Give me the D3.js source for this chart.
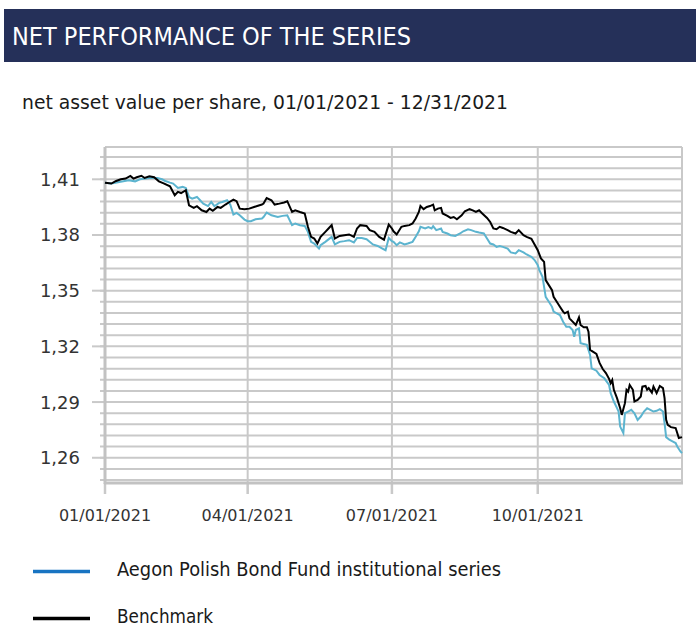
<!DOCTYPE html>
<html>
<head>
<meta charset="utf-8">
<script src="https://cdn.jsdelivr.net/npm/d3@7"></script>
<style>
  body { margin: 0; background: #fff; }
  svg { display: block; }
</style>
</head>
<body>
<div id="chart"></div>
<script>
// net asset value per share
const fundSeries = [
  ["2021-01-01",1.4082],["2021-01-05",1.4077],["2021-01-10",1.4085],["2021-01-16",1.4095],["2021-01-20",1.4089],
  ["2021-01-23",1.4100],["2021-01-29",1.4107],["2021-02-03",1.4107],["2021-02-06",1.4100],["2021-02-08",1.4091],
  ["2021-02-11",1.4082],["2021-02-13",1.4077],["2021-02-16",1.4053],["2021-02-19",1.4059],["2021-02-21",1.4053],
  ["2021-02-23",1.4005],["2021-02-25",1.3996],["2021-02-28",1.4005],["2021-03-02",1.3987],["2021-03-04",1.3969],
  ["2021-03-07",1.3956],["2021-03-09",1.3978],["2021-03-11",1.3955],["2021-03-14",1.3973],["2021-03-16",1.3978],
  ["2021-03-19",1.3987],["2021-03-21",1.3964],["2021-03-23",1.3910],["2021-03-25",1.3919],["2021-03-27",1.3906],
  ["2021-03-30",1.3883],["2021-04-01",1.3874],["2021-04-03",1.3874],["2021-04-06",1.3885],["2021-04-10",1.3889],
  ["2021-04-11",1.3897],["2021-04-13",1.3921],["2021-04-16",1.3906],["2021-04-20",1.3897],["2021-04-23",1.3903],
  ["2021-04-26",1.3906],["2021-04-29",1.3853],["2021-05-01",1.3862],["2021-05-04",1.3853],["2021-05-07",1.3849],
  ["2021-05-09",1.3817],["2021-05-11",1.3763],["2021-05-13",1.3754],["2021-05-16",1.3727],["2021-05-17",1.3745],
  ["2021-05-20",1.3763],["2021-05-24",1.3790],["2021-05-26",1.3749],["2021-05-29",1.3763],["2021-06-01",1.3767],
  ["2021-06-04",1.3772],["2021-06-07",1.3760],["2021-06-09",1.3784],["2021-06-12",1.3784],["2021-06-15",1.3777],
  ["2021-06-19",1.3749],["2021-06-22",1.3741],["2021-06-25",1.3727],["2021-06-27",1.3718],["2021-06-29",1.3784],
  ["2021-07-01",1.3767],["2021-07-02",1.3763],["2021-07-04",1.3745],["2021-07-06",1.3760],["2021-07-09",1.3749],
  ["2021-07-11",1.3754],["2021-07-14",1.3763],["2021-07-16",1.3790],["2021-07-18",1.3820],["2021-07-19",1.3844],
  ["2021-07-22",1.3835],["2021-07-24",1.3842],["2021-07-26",1.3835],["2021-07-27",1.3847],["2021-07-29",1.3826],
  ["2021-08-01",1.3835],["2021-08-02",1.3817],["2021-08-05",1.3808],["2021-08-07",1.3799],["2021-08-10",1.3795],
  ["2021-08-13",1.3808],["2021-08-15",1.3820],["2021-08-18",1.3831],["2021-08-20",1.3826],["2021-08-23",1.3817],
  ["2021-08-25",1.3813],["2021-08-28",1.3808],["2021-08-30",1.3781],["2021-09-01",1.3754],["2021-09-03",1.3749],
  ["2021-09-05",1.3736],["2021-09-07",1.3741],["2021-09-09",1.3736],["2021-09-12",1.3727],["2021-09-14",1.3706],
  ["2021-09-17",1.3701],["2021-09-19",1.3718],["2021-09-22",1.3706],["2021-09-24",1.3695],["2021-09-27",1.3682],
  ["2021-09-29",1.3665],["2021-10-01",1.3638],["2021-10-02",1.3611],["2021-10-04",1.3575],["2021-10-06",1.3467],
  ["2021-10-08",1.3440],["2021-10-10",1.3413],["2021-10-11",1.3387],["2021-10-13",1.3378],["2021-10-15",1.3369],
  ["2021-10-17",1.3333],["2021-10-19",1.3306],["2021-10-21",1.3306],["2021-10-23",1.3288],["2021-10-24",1.3252],
  ["2021-10-25",1.3288],["2021-10-27",1.3297],["2021-10-28",1.3217],["2021-10-30",1.3213],["2021-11-01",1.3208],
  ["2021-11-03",1.3154],["2021-11-04",1.3082],["2021-11-07",1.3069],["2021-11-09",1.3046],["2021-11-12",1.3028],
  ["2021-11-15",1.2992],["2021-11-16",1.2948],["2021-11-18",1.2903],["2021-11-20",1.2867],["2021-11-21",1.2849],
  ["2021-11-22",1.2768],["2021-11-24",1.2733],["2021-11-25",1.2840],["2021-11-27",1.2849],["2021-11-29",1.2858],
  ["2021-12-01",1.2840],["2021-12-03",1.2804],["2021-12-05",1.2822],["2021-12-07",1.2849],["2021-12-09",1.2867],
  ["2021-12-11",1.2858],["2021-12-13",1.2849],["2021-12-15",1.2853],["2021-12-17",1.2862],["2021-12-19",1.2849],
  ["2021-12-20",1.2787],["2021-12-21",1.2711],["2021-12-23",1.2697],["2021-12-25",1.2688],["2021-12-27",1.2679],
  ["2021-12-28",1.2661],["2021-12-30",1.2634],["2021-12-31",1.2625]
];

const benchSeries = [
  ["2021-01-01",1.4082],["2021-01-05",1.4077],["2021-01-08",1.4091],["2021-01-11",1.4100],["2021-01-14",1.4104],
  ["2021-01-17",1.4118],["2021-01-19",1.4104],["2021-01-21",1.4111],["2021-01-24",1.4119],["2021-01-26",1.4107],
  ["2021-01-29",1.4116],["2021-02-01",1.4111],["2021-02-04",1.4089],["2021-02-07",1.4078],["2021-02-11",1.4062],
  ["2021-02-12",1.4046],["2021-02-14",1.4014],["2021-02-16",1.4032],["2021-02-18",1.4026],["2021-02-21",1.4041],
  ["2021-02-23",1.3960],["2021-02-26",1.3946],["2021-02-28",1.3955],["2021-03-03",1.3933],["2021-03-06",1.3924],
  ["2021-03-08",1.3942],["2021-03-10",1.3930],["2021-03-13",1.3951],["2021-03-15",1.3946],["2021-03-18",1.3964],
  ["2021-03-20",1.3975],["2021-03-23",1.3991],["2021-03-25",1.3982],["2021-03-27",1.3942],["2021-03-30",1.3939],
  ["2021-04-02",1.3942],["2021-04-05",1.3951],["2021-04-07",1.3956],["2021-04-10",1.3964],["2021-04-11",1.3969],
  ["2021-04-13",1.3999],["2021-04-16",1.3987],["2021-04-18",1.3964],["2021-04-21",1.3969],["2021-04-24",1.3975],
  ["2021-04-26",1.3982],["2021-04-29",1.3924],["2021-05-01",1.3933],["2021-05-04",1.3924],["2021-05-07",1.3916],
  ["2021-05-09",1.3844],["2021-05-11",1.3790],["2021-05-13",1.3781],["2021-05-15",1.3754],["2021-05-17",1.3790],
  ["2021-05-20",1.3817],["2021-05-22",1.3835],["2021-05-24",1.3853],["2021-05-26",1.3781],["2021-05-29",1.3795],
  ["2021-06-01",1.3799],["2021-06-04",1.3803],["2021-06-07",1.3790],["2021-06-09",1.3835],["2021-06-11",1.3853],
  ["2021-06-15",1.3849],["2021-06-17",1.3826],["2021-06-20",1.3817],["2021-06-23",1.3790],["2021-06-26",1.3775],
  ["2021-06-29",1.3856],["2021-07-01",1.3835],["2021-07-02",1.3820],["2021-07-04",1.3803],["2021-07-07",1.3844],
  ["2021-07-09",1.3849],["2021-07-12",1.3853],["2021-07-14",1.3862],["2021-07-16",1.3889],["2021-07-18",1.3924],
  ["2021-07-19",1.3956],["2021-07-21",1.3939],["2021-07-23",1.3951],["2021-07-25",1.3956],["2021-07-27",1.3964],
  ["2021-07-28",1.3933],["2021-07-30",1.3942],["2021-08-01",1.3946],["2021-08-02",1.3916],["2021-08-05",1.3903],
  ["2021-08-07",1.3892],["2021-08-09",1.3897],["2021-08-11",1.3885],["2021-08-14",1.3906],["2021-08-16",1.3928],
  ["2021-08-19",1.3939],["2021-08-21",1.3933],["2021-08-23",1.3924],["2021-08-25",1.3933],["2021-08-27",1.3916],
  ["2021-08-30",1.3892],["2021-09-01",1.3870],["2021-09-03",1.3835],["2021-09-05",1.3831],["2021-09-07",1.3844],
  ["2021-09-09",1.3838],["2021-09-12",1.3826],["2021-09-14",1.3817],["2021-09-17",1.3808],["2021-09-19",1.3826],
  ["2021-09-22",1.3799],["2021-09-24",1.3790],["2021-09-27",1.3780],["2021-09-29",1.3749],["2021-10-01",1.3718],
  ["2021-10-03",1.3674],["2021-10-05",1.3655],["2021-10-06",1.3557],["2021-10-08",1.3530],["2021-10-10",1.3503],
  ["2021-10-11",1.3467],["2021-10-13",1.3440],["2021-10-15",1.3413],["2021-10-17",1.3387],["2021-10-18",1.3378],
  ["2021-10-20",1.3387],["2021-10-21",1.3351],["2021-10-23",1.3333],["2021-10-25",1.3315],["2021-10-27",1.3356],
  ["2021-10-28",1.3315],["2021-10-30",1.3303],["2021-11-01",1.3303],["2021-11-02",1.3279],["2021-11-03",1.3181],
  ["2021-11-05",1.3170],["2021-11-07",1.3159],["2021-11-09",1.3111],["2021-11-11",1.3078],["2021-11-13",1.3056],
  ["2021-11-15",1.3025],["2021-11-16",1.3002],["2021-11-17",1.3019],["2021-11-18",1.2966],["2021-11-20",1.2921],
  ["2021-11-22",1.2867],["2021-11-23",1.2831],["2021-11-25",1.2894],["2021-11-26",1.2966],["2021-11-27",1.2956],
  ["2021-11-28",1.2992],["2021-11-30",1.2966],["2021-12-01",1.2903],["2021-12-03",1.2912],["2021-12-05",1.2930],
  ["2021-12-06",1.2983],["2021-12-08",1.2987],["2021-12-09",1.2966],["2021-12-10",1.2975],["2021-12-12",1.2951],
  ["2021-12-13",1.2983],["2021-12-14",1.2966],["2021-12-15",1.2948],["2021-12-17",1.2987],["2021-12-19",1.2975],
  ["2021-12-20",1.2921],["2021-12-21",1.2804],["2021-12-22",1.2777],["2021-12-24",1.2765],["2021-12-27",1.2760],
  ["2021-12-28",1.2733],["2021-12-29",1.2706],["2021-12-31",1.2711]
];

const xTickDates = ["2021-01-01", "2021-04-01", "2021-07-01", "2021-10-01"];
const xTickLabels = ["01/01/2021", "04/01/2021", "07/01/2021", "10/01/2021"];
const yTickValues = [1.26, 1.29, 1.32, 1.35, 1.38, 1.41];
const yTickLabels = ["1,26", "1,29", "1,32", "1,35", "1,38", "1,41"];
const legendLabels = ["Aegon Polish Bond Fund institutional series", "Benchmark"];

const width = 696;
const height = 626;
const parseDate = d3.timeParse("%Y-%m-%d");

const svg = d3.select("#chart")
  .append("svg")
  .attr("width", width)
  .attr("height", height);

svg.append("rect").attr("width", width).attr("height", height).attr("fill", "#fff");

////////////////// HEADER //////////////////
svg.append("rect")
  .attr("x", 4).attr("y", 9)
  .attr("width", width - 4).attr("height", 53)
  .attr("fill", "#253059");

svg.append("text")
  .attr("x", 12).attr("y", 45)
  .attr("fill", "#fff")
  .style("font-family", "'DejaVu Sans Condensed', 'DejaVu Sans'")
  .style("font-stretch", "condensed")
  .style("font-size", "24px")
  .attr("textLength", 399)
  .attr("lengthAdjust", "spacingAndGlyphs")
  .text("NET PERFORMANCE OF THE SERIES");

svg.append("text")
  .attr("x", 22).attr("y", 109)
  .attr("fill", "#1a1a1a")
  .style("font-family", "'DejaVu Sans Condensed', 'DejaVu Sans'")
  .style("font-stretch", "condensed")
  .style("font-size", "19px")
  .attr("textLength", 486)
  .attr("lengthAdjust", "spacingAndGlyphs")
  .text("net asset value per share, 01/01/2021 - 12/31/2021");

////////////////// SCALES //////////////////
const x = d3.scaleTime()
  .domain([parseDate("2021-01-01"), parseDate("2021-12-31")])
  .range([105, 682]);

const y = d3.scaleLinear()
  .domain([1.2464, 1.4274])
  .range([483, 147]);

const gridColor = "#c9c9c9";

////////////////// GRID //////////////////
const minorValues = d3.range(0, 30).map(i => 1.248 + i * 0.006);

const grid = svg.append("g");
grid.selectAll("line.hgrid")
  .data(minorValues)
  .join("line")
  .attr("class", "hgrid")
  .attr("x1", 100).attr("x2", x.range()[1])
  .attr("y1", d => y(d)).attr("y2", d => y(d))
  .attr("stroke", gridColor).attr("stroke-width", 2);

// top border
grid.append("line")
  .attr("x1", x.range()[0]).attr("x2", x.range()[1])
  .attr("y1", y.range()[1]).attr("y2", y.range()[1])
  .attr("stroke", gridColor).attr("stroke-width", 2);

// major ticks on the left
grid.selectAll("line.ymajor")
  .data(yTickValues)
  .join("line")
  .attr("class", "ymajor")
  .attr("x1", 92).attr("x2", x.range()[0])
  .attr("y1", d => y(d)).attr("y2", d => y(d))
  .attr("stroke", gridColor).attr("stroke-width", 2);

// vertical gridlines at quarter starts + right edge
const vDates = xTickDates.map(parseDate).concat([parseDate("2021-12-31")]);
grid.selectAll("line.vgrid")
  .data(vDates)
  .join("line")
  .attr("class", "vgrid")
  .attr("x1", d => x(d)).attr("x2", d => x(d))
  .attr("y1", y.range()[1]).attr("y2", y.range()[0])
  .attr("stroke", gridColor).attr("stroke-width", 2);

// x ticks
grid.selectAll("line.xtick")
  .data(xTickDates.map(parseDate))
  .join("line")
  .attr("class", "xtick")
  .attr("x1", d => x(d)).attr("x2", d => x(d))
  .attr("y1", y.range()[0]).attr("y2", y.range()[0] + 11)
  .attr("stroke", gridColor).attr("stroke-width", 2.5);

// axes lines
grid.append("line")
  .attr("x1", x.range()[0]).attr("x2", x.range()[0])
  .attr("y1", y.range()[1]).attr("y2", y.range()[0] + 1)
  .attr("stroke", "#c2c2c2").attr("stroke-width", 3);

grid.append("line")
  .attr("x1", x.range()[0] - 1).attr("x2", x.range()[1] + 1)
  .attr("y1", y.range()[0]).attr("y2", y.range()[0])
  .attr("stroke", "#c2c2c2").attr("stroke-width", 3);

////////////////// LABELS //////////////////
svg.append("g").selectAll("text")
  .data(yTickValues)
  .join("text")
  .attr("x", 80)
  .attr("y", d => y(d) + 6.5)
  .attr("text-anchor", "end")
  .attr("fill", "#333")
  .style("font-family", "'DejaVu Sans'")
  .style("font-size", "18px")
  .text((d, i) => yTickLabels[i]);

svg.append("g").selectAll("text")
  .data(xTickDates.map(parseDate))
  .join("text")
  .attr("x", d => x(d))
  .attr("y", 521)
  .attr("text-anchor", "middle")
  .attr("fill", "#333")
  .style("font-family", "'DejaVu Sans'")
  .style("font-size", "16px")
  .text((d, i) => xTickLabels[i]);

////////////////// LINES //////////////////
const line = d3.line()
  .x(d => x(parseDate(d[0])))
  .y(d => y(d[1]));

svg.append("path")
  .datum(fundSeries)
  .attr("d", line)
  .attr("fill", "none")
  .attr("stroke", "#5cb4cf")
  .attr("stroke-width", 2);

svg.append("path")
  .datum(benchSeries)
  .attr("d", line)
  .attr("fill", "none")
  .attr("stroke", "#000")
  .attr("stroke-width", 2);

////////////////// LEGEND //////////////////
const legendColors = ["#1874c2", "#000"];
const legendWidths = [384, 96];
const legend = svg.append("g");
legendLabels.forEach((label, i) => {
  const ly = 571.5 + i * 47;
  legend.append("line")
    .attr("x1", 33).attr("x2", 90)
    .attr("y1", ly).attr("y2", ly)
    .attr("stroke", legendColors[i])
    .attr("stroke-width", 3.5);
  legend.append("text")
    .attr("x", 117).attr("y", ly + 4.5)
    .attr("fill", "#1a1a1a")
    .style("font-family", "'DejaVu Sans Condensed', 'DejaVu Sans'")
    .style("font-stretch", "condensed")
    .style("font-size", "19px")
    .attr("textLength", legendWidths[i])
    .attr("lengthAdjust", "spacingAndGlyphs")
    .text(label);
});
</script>
</body>
</html>
